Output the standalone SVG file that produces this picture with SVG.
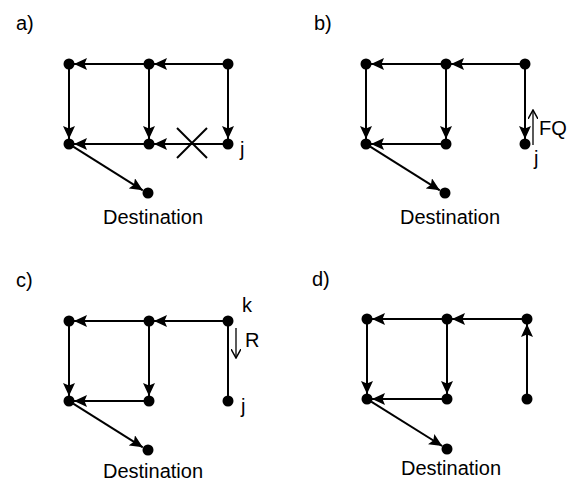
<svg xmlns="http://www.w3.org/2000/svg" width="569" height="487" viewBox="0 0 569 487">
  <style>
    .edge { stroke: #000; stroke-width: 2; fill: none; }
    .arr { marker-end: url(#head); }
    .node { fill: #000; }
    .lbl { font-family: "Liberation Sans", Arial, sans-serif; font-size: 20px; fill: #000; }
    .mid { text-anchor: middle; }
  </style>
  <defs>
    <marker id="head" markerUnits="userSpaceOnUse" markerWidth="13" markerHeight="12" refX="13" refY="6" orient="auto" viewBox="0 0 13 12">
      <path d="M0,0 L13,6 L0,12 L2.5,6 z" fill="#000"/>
    </marker>
    <marker id="headSmall" markerUnits="userSpaceOnUse" markerWidth="10" markerHeight="10" refX="9" refY="5" orient="auto" viewBox="0 0 10 10">
      <path d="M0,0 L9,5 L0,10" fill="none" stroke="#000" stroke-width="1.5"/>
    </marker>
  </defs>
  <rect width="569" height="487" fill="#fff"/>

  <!-- a) -->
  <g id="panel-a">
    <text class="lbl" x="16" y="30">a)</text>
    <g id="a-edges">
      <line class="edge arr" x1="223" y1="64" x2="154" y2="64"/>
      <line class="edge arr" x1="144" y1="64" x2="74" y2="64"/>
      <line class="edge arr" x1="69" y1="69" x2="69" y2="139"/>
      <line class="edge arr" x1="149" y1="69" x2="149" y2="139"/>
      <line class="edge arr" x1="228" y1="69" x2="228" y2="139"/>
      <line class="edge arr" x1="144" y1="144" x2="74" y2="144"/>
      <line class="edge arr" x1="223" y1="144" x2="154" y2="144"/>
      <line class="edge arr" x1="73.2" y1="146.7" x2="142.8" y2="190.3"/>
      <line class="edge" x1="177" y1="128" x2="207" y2="158"/>
      <line class="edge" x1="177" y1="158" x2="207" y2="128"/>
    </g>
    <g id="a-n1"><circle class="node" cx="69" cy="64" r="5.5"/></g>
    <g id="a-n2"><circle class="node" cx="149" cy="64" r="5.5"/></g>
    <g id="a-n3"><circle class="node" cx="228" cy="64" r="5.5"/></g>
    <g id="a-n4"><circle class="node" cx="69" cy="144" r="5.5"/></g>
    <g id="a-n5"><circle class="node" cx="149" cy="144" r="5.5"/></g>
    <g id="a-j"><circle class="node" cx="228" cy="144" r="5.5"/><text class="lbl" x="240" y="156">j</text></g>
    <g id="a-dest"><circle class="node" cx="148" cy="193" r="5.5"/><text class="lbl mid" x="153" y="224">Destination</text></g>
  </g>

  <!-- b) -->
  <g id="panel-b" transform="translate(297,0)">
    <text class="lbl" x="17" y="30">b)</text>
    <g id="b-edges">
      <line class="edge arr" x1="223" y1="64" x2="154" y2="64"/>
      <line class="edge arr" x1="144" y1="64" x2="74" y2="64"/>
      <line class="edge arr" x1="69" y1="69" x2="69" y2="139"/>
      <line class="edge arr" x1="149" y1="69" x2="149" y2="139"/>
      <line class="edge arr" x1="228" y1="69" x2="228" y2="139"/>
      <line class="edge arr" x1="144" y1="144" x2="74" y2="144"/>
      <line class="edge arr" x1="73.2" y1="146.7" x2="142.8" y2="190.3"/>
      <line x1="236" y1="145" x2="236" y2="110" stroke="#000" stroke-width="1.3" marker-end="url(#headSmall)"/>
    </g>
    <text class="lbl" x="242" y="135">FQ</text>
    <g id="b-n1"><circle class="node" cx="69" cy="64" r="5.5"/></g>
    <g id="b-n2"><circle class="node" cx="149" cy="64" r="5.5"/></g>
    <g id="b-n3"><circle class="node" cx="228" cy="64" r="5.5"/></g>
    <g id="b-n4"><circle class="node" cx="69" cy="144" r="5.5"/></g>
    <g id="b-n5"><circle class="node" cx="149" cy="144" r="5.5"/></g>
    <g id="b-j"><circle class="node" cx="228" cy="144" r="5.5"/><text class="lbl" x="237" y="165">j</text></g>
    <g id="b-dest"><circle class="node" cx="148" cy="193" r="5.5"/><text class="lbl mid" x="153" y="224">Destination</text></g>
  </g>

  <!-- c) -->
  <g id="panel-c" transform="translate(0,257)">
    <text class="lbl" x="16" y="30">c)</text>
    <g id="c-edges">
      <line class="edge arr" x1="223" y1="64" x2="154" y2="64"/>
      <line class="edge arr" x1="144" y1="64" x2="74" y2="64"/>
      <line class="edge arr" x1="69" y1="69" x2="69" y2="139"/>
      <line class="edge arr" x1="149" y1="69" x2="149" y2="139"/>
      <line class="edge" x1="228" y1="69" x2="228" y2="139"/>
      <line class="edge arr" x1="144" y1="144" x2="74" y2="144"/>
      <line class="edge arr" x1="73.2" y1="146.7" x2="142.8" y2="190.3"/>
      <line x1="236" y1="71" x2="236" y2="101" stroke="#000" stroke-width="1.3" marker-end="url(#headSmall)"/>
    </g>
    <text class="lbl" x="245" y="90">R</text>
    <g id="c-k"><circle class="node" cx="228" cy="64" r="5.5"/><text class="lbl" x="242" y="55">k</text></g>
    <g id="c-n1"><circle class="node" cx="69" cy="64" r="5.5"/></g>
    <g id="c-n2"><circle class="node" cx="149" cy="64" r="5.5"/></g>
    <g id="c-n4"><circle class="node" cx="69" cy="144" r="5.5"/></g>
    <g id="c-n5"><circle class="node" cx="149" cy="144" r="5.5"/></g>
    <g id="c-j"><circle class="node" cx="228" cy="144" r="5.5"/><text class="lbl" x="241" y="156">j</text></g>
    <g id="c-dest"><circle class="node" cx="148" cy="193" r="5.5"/><text class="lbl mid" x="153" y="221">Destination</text></g>
  </g>

  <!-- d) -->
  <g id="panel-d" transform="translate(298,255)">
    <text class="lbl" x="14" y="31">d)</text>
    <g id="d-edges">
      <line class="edge arr" x1="224" y1="64" x2="154" y2="64"/>
      <line class="edge arr" x1="144" y1="64" x2="74" y2="64"/>
      <line class="edge arr" x1="69" y1="69" x2="69" y2="139"/>
      <line class="edge arr" x1="149" y1="69" x2="149" y2="139"/>
      <line class="edge arr" x1="229" y1="139" x2="229" y2="69"/>
      <line class="edge arr" x1="144" y1="144" x2="74" y2="144"/>
      <line class="edge arr" x1="73.2" y1="146.7" x2="144.2" y2="191"/>
    </g>
    <g id="d-n1"><circle class="node" cx="69" cy="64" r="5.5"/></g>
    <g id="d-n2"><circle class="node" cx="149" cy="64" r="5.5"/></g>
    <g id="d-n3"><circle class="node" cx="229" cy="64" r="5.5"/></g>
    <g id="d-n4"><circle class="node" cx="69" cy="144" r="5.5"/></g>
    <g id="d-n5"><circle class="node" cx="149" cy="144" r="5.5"/></g>
    <g id="d-n6"><circle class="node" cx="229" cy="144" r="5.5"/></g>
    <g id="d-dest"><circle class="node" cx="149" cy="194" r="5.5"/><text class="lbl mid" x="153" y="220">Destination</text></g>
  </g>
</svg>
